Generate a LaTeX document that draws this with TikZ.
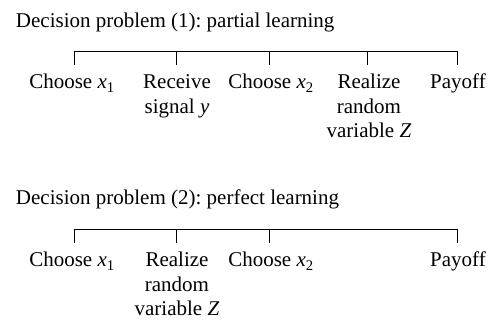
\documentclass[tikz,border=0pt]{standalone}
\usepackage{fontspec}
\setmainfont{Liberation Serif}
\frenchspacing
% stacked label whose baseline is the baseline of its first line
\newcommand{\stackedlabel}[1]{\begin{tabular}[t]{@{}c@{}}#1\end{tabular}}
\begin{document}
\begin{tikzpicture}[x=1pt,y=-1pt,
  every node/.style={inner sep=0pt,outer sep=0pt,font=\fontsize{21}{24.5}\selectfont},
  title/.style={anchor=base west},
  lbl/.style={anchor=base},
  axis/.style={line width=0.9pt}]
\useasboundingbox (0,0) rectangle (493,320);

% ---- Decision problem (1)
\node[title] (h1) at (16,28) {Decision problem (1): partial learning};
\foreach \n/\x in {1/74,2/176,3/269,4/367,5/457}{
  \coordinate (a\n) at (\x,51);
  \coordinate (ab\n) at (\x,65);
}
\draw[axis] (a1) -- (a5);
\foreach \n in {1,...,5}{ \draw[axis] (a\n) -- (ab\n); }
\node[lbl] (p1) at (72,89) {Choose \textit{x}\textsubscript{1}};
\node[lbl] (p2) at (177,89) {\stackedlabel{Receive\\signal \textit{y}}};
\node[lbl] (p3) at (271,89) {Choose \textit{x}\textsubscript{2}};
\node[lbl] (p4) at (369,89) {\stackedlabel{Realize\\random\\variable \textit{Z}}};
\node[lbl] (p5) at (458,89) {Payoff};

% ---- Decision problem (2)
\node[title] (h2) at (16,205) {Decision problem (2): perfect learning};
\foreach \n/\x in {1/74,2/176,3/269,4/457}{
  \coordinate (c\n) at (\x,229);
  \coordinate (cb\n) at (\x,243);
}
\draw[axis] (c1) -- (c4);
\foreach \n in {1,...,4}{ \draw[axis] (c\n) -- (cb\n); }
\node[lbl] (q1) at (72,267) {Choose \textit{x}\textsubscript{1}};
\node[lbl] (q2) at (177,267) {\stackedlabel{Realize\\random\\variable \textit{Z}}};
\node[lbl] (q3) at (271,267) {Choose \textit{x}\textsubscript{2}};
\node[lbl] (q4) at (458,267) {Payoff};
\end{tikzpicture}
\end{document}
